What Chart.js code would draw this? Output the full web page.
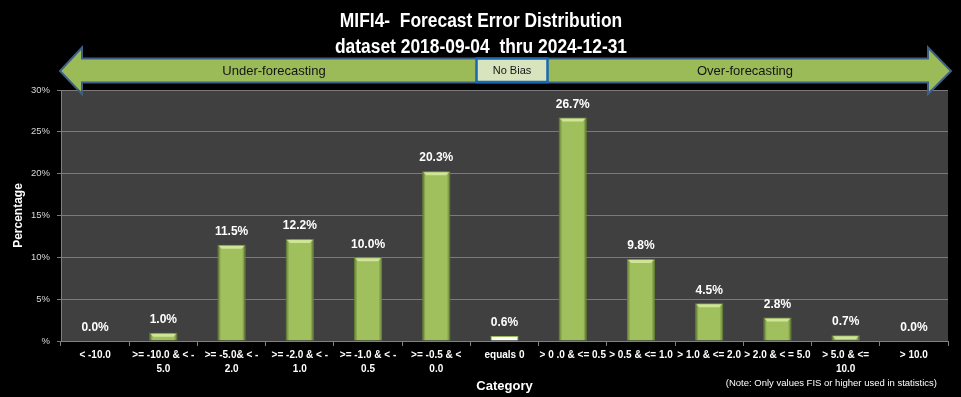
<!DOCTYPE html>
<html>
<head>
<meta charset="utf-8">
<script src="https://cdn.jsdelivr.net/npm/chart.js@4"></script>
<style>
html,body{margin:0;padding:0;background:#000;}
#wrap{width:961px;height:397px;}
</style>
</head>
<body>
<div id="wrap"><canvas id="c" width="961" height="397"></canvas></div>
<script>
const categories = [
  "< -10.0",
  [">= -10.0 & < -", "5.0"],
  [">= -5.0& < -", "2.0"],
  [">= -2.0 & < -", "1.0"],
  [">= -1.0 & < -", "0.5"],
  [">= -0.5 & <", "0.0"],
  "equals 0",
  "> 0 .0 & <= 0.5",
  "> 0.5 & <= 1.0",
  "> 1.0 & <= 2.0",
  "> 2.0 & < = 5.0",
  ["> 5.0 & <=", "10.0"],
  "> 10.0"
];
const percentages = [0.0, 1.0, 11.5, 12.2, 10.0, 20.3, 0.6, 26.7, 9.8, 4.5, 2.8, 0.7, 0.0];
const yTicks = [0, 5, 10, 15, 20, 25, 30];
const titleLines = ["MIFI4-  Forecast Error Distribution", "dataset 2018-09-04  thru 2024-12-31"];
const biasLabels = ["Under-forecasting", "No Bias", "Over-forecasting"];
const noteText = "(Note: Only values FIS or higher used in statistics)";

const GREEN = '#9bbb59';

const bgPlugin = {
  id: 'plotBg',
  beforeDraw(chart) {
    const {ctx, chartArea: a} = chart;
    ctx.save();
    ctx.fillStyle = '#000';
    ctx.fillRect(0, 0, chart.width, chart.height);
    ctx.fillStyle = '#404040';
    ctx.fillRect(a.left, a.top, a.right - a.left, a.bottom - a.top);
    ctx.restore();
  }
};

const titlePlugin = {
  id: 'condTitle',
  afterDraw(chart) {
    const {ctx} = chart;
    ctx.save();
    ctx.fillStyle = '#ffffff';
    ctx.textAlign = 'center';
    ctx.textBaseline = 'middle';
    ctx.font = 'bold 20px "Liberation Sans", Arial, sans-serif';
    const sx = 0.87;
    ctx.scale(sx, 1);
    ctx.fillText(titleLines[0], 481 / sx, 21);
    ctx.fillText(titleLines[1], 481 / sx, 47);
    ctx.restore();
  }
};

const barLook = {
  id: 'barLook',
  afterDatasetsDraw(chart) {
    const {ctx} = chart;
    const meta = chart.getDatasetMeta(0);
    ctx.save();
    meta.data.forEach((bar, i) => {
      const v = percentages[i];
      if (!v || i === 6) return;
      const w = bar.width, x0 = bar.x - w / 2, h = bar.base - bar.y;
      if (h < 3) return;
      const g = ctx.createLinearGradient(x0, 0, x0 + w, 0);
      g.addColorStop(0, 'rgba(90,120,40,0.55)');
      g.addColorStop(0.12, 'rgba(0,0,0,0)');
      g.addColorStop(0.88, 'rgba(0,0,0,0)');
      g.addColorStop(1, 'rgba(90,120,40,0.55)');
      ctx.fillStyle = g;
      ctx.fillRect(x0, bar.y, w, h);
      ctx.beginPath();
      ctx.moveTo(x0 + 1, bar.y + 1);
      ctx.lineTo(x0 + w - 1, bar.y + 1);
      ctx.lineTo(x0 + w - 4, bar.y + 4);
      ctx.lineTo(x0 + 4, bar.y + 4);
      ctx.closePath();
      ctx.fillStyle = 'rgba(215,235,160,0.85)';
      ctx.fill();
    });
    ctx.restore();
  }
};

const labelsPlugin = {
  id: 'valLabels',
  afterDatasetsDraw(chart) {
    const {ctx} = chart;
    const meta = chart.getDatasetMeta(0);
    ctx.save();
    ctx.font = 'bold 12px "Liberation Sans", Arial, sans-serif';
    ctx.fillStyle = '#ffffff';
    ctx.textAlign = 'center';
    ctx.textBaseline = 'middle';
    meta.data.forEach((bar, i) => {
      ctx.fillText(percentages[i].toFixed(1) + '%', bar.x, bar.y - 13);
    });
    ctx.restore();
  }
};

const arrowPlugin = {
  id: 'biasArrow',
  afterDraw(chart) {
    const {ctx} = chart;
    ctx.save();
    ctx.beginPath();
    ctx.moveTo(60, 71);
    ctx.lineTo(82, 47.5);
    ctx.lineTo(82, 58.5);
    ctx.lineTo(928, 58.5);
    ctx.lineTo(928, 47.5);
    ctx.lineTo(951, 71);
    ctx.lineTo(928, 94);
    ctx.lineTo(928, 82.5);
    ctx.lineTo(82, 82.5);
    ctx.lineTo(82, 94);
    ctx.closePath();
    ctx.fillStyle = GREEN;
    ctx.fill();
    ctx.lineWidth = 2;
    ctx.strokeStyle = '#3f5f86';
    ctx.lineJoin = 'miter';
    ctx.stroke();
    ctx.fillStyle = '#d7e4bd';
    ctx.fillRect(476.5, 58.5, 71, 23.5);
    ctx.lineWidth = 2.5;
    ctx.strokeStyle = '#1868b4';
    ctx.strokeRect(476.5, 58.5, 71, 23.5);
    ctx.textBaseline = 'middle';
    ctx.textAlign = 'center';
    ctx.fillStyle = '#141414';
    ctx.font = '13px "Liberation Sans", Arial, sans-serif';
    ctx.fillText(biasLabels[0], 274, 71);
    ctx.fillText(biasLabels[2], 745, 71);
    ctx.font = '11px "Liberation Sans", Arial, sans-serif';
    ctx.fillText(biasLabels[1], 512, 71);
    ctx.fillStyle = '#ffffff';
    ctx.textAlign = 'right';
    ctx.font = '9.5px "Liberation Sans", Arial, sans-serif';
    ctx.fillText(noteText, 937, 383);
    ctx.restore();
  }
};

new Chart(document.getElementById('c'), {
  type: 'bar',
  data: {
    labels: categories,
    datasets: [{
      data: percentages,
      backgroundColor: percentages.map((v, i) => i === 6 ? '#ffffff' : '#a0c05d'),
      borderColor: percentages.map((v, i) => i === 6 ? '#9bbb59' : '#7c9c44'),
      borderWidth: 1,
      borderSkipped: 'bottom',
      barPercentage: 0.41,
      categoryPercentage: 1.0
    }]
  },
  options: {
    responsive: false,
    animation: false,
    layout: {padding: {left: 0, right: 13, top: 90, bottom: 0}},
    plugins: {
      legend: {display: false},
      tooltip: {enabled: false},
      title: {display: false}
    },
    scales: {
      x: {
        afterFit(s) { s.height = 56; },
        grid: {display: true, drawOnChartArea: false, offset: true, color: '#808080', tickLength: 5, tickColor: '#808080'},
        border: {display: true, color: '#808080', width: 1},
        ticks: {
          color: '#ffffff',
          autoSkip: false,
          maxRotation: 0,
          minRotation: 0,
          padding: 2,
          font: {family: '"Liberation Sans", Arial, sans-serif', size: 10, weight: 'bold', lineHeight: 1.4}
        },
        title: {
          display: true,
          text: 'Category',
          color: '#ffffff',
          font: {family: '"Liberation Sans", Arial, sans-serif', size: 13, weight: 'bold', lineHeight: 1.2},
          padding: {top: 0, bottom: 3}
        }
      },
      y: {
        min: 0,
        max: 30,
        afterFit(s) { s.width = 61; },
        afterBuildTicks(s) { s.ticks = yTicks.map(v => ({value: v})); },
        grid: {color: '#7a7a7a', tickLength: 4, tickColor: '#7a7a7a'},
        border: {display: true, color: '#808080', width: 1},
        ticks: {
          color: '#d9d9d9',
          padding: 7,
          font: {family: '"Liberation Sans", Arial, sans-serif', size: 9.5},
          callback: v => v === 0 ? '%' : v + '%'
        },
        title: {
          display: true,
          text: 'Percentage',
          color: '#ffffff',
          font: {family: '"Liberation Sans", Arial, sans-serif', size: 12, weight: 'bold', lineHeight: 1.2},
          padding: {top: 11, bottom: 0}
        }
      }
    }
  },
  plugins: [bgPlugin, barLook, labelsPlugin, arrowPlugin, titlePlugin]
});
</script>
</body>
</html>
